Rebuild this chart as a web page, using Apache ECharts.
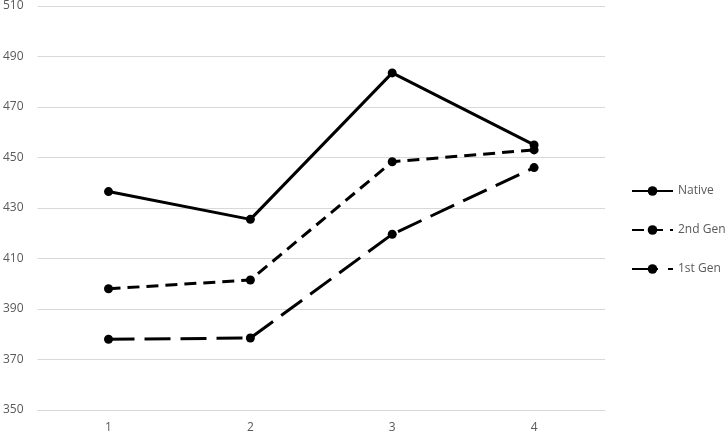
<!DOCTYPE html>
<html><head><meta charset="utf-8">
<script src="https://cdn.jsdelivr.net/npm/echarts@6/dist/echarts.min.js"></script>
<style>html,body{margin:0;padding:0;background:#fff}#c{width:726px;height:435px}</style>
</head><body><div id="c"></div>
<script>
const categories = ['1', '2', '3', '4'];
const native = [436.5, 425.5, 483.5, 455];
const secondGen = [398, 401.5, 448.3, 453];
const firstGen = [378, 378.5, 419.6, 446];

const chart = echarts.init(document.getElementById('c'));
const mk = (name, data, type) => ({
  name, type: 'line', data,
  symbol: 'circle', symbolSize: 9,
  itemStyle: { color: '#000' },
  lineStyle: { color: '#000', width: 3, type },
  emphasis: { disabled: true }
});
chart.setOption({
  animation: false,
  grid: { left: 35, right: 121, top: 5, bottom: 25 },
  xAxis: {
    type: 'category', data: categories,
    axisLine: { lineStyle: { color: '#d9d9d9' } },
    axisTick: { show: false },
    axisLabel: { color: '#595959', fontSize: 12, margin: 12, fontFamily: 'Open Sans' }
  },
  yAxis: {
    type: 'value', min: 350, max: 510, interval: 20,
    axisLine: { show: false }, axisTick: { show: false },
    splitLine: { lineStyle: { color: '#d9d9d9' } },
    axisLabel: { color: '#595959', fontSize: 12, margin: 14, fontFamily: 'Open Sans' }
  },
  legend: {
    orient: 'vertical', left: 631, top: 185, itemGap: 27, padding: 0,
    itemWidth: 41, itemHeight: 12,
    textStyle: { color: '#595959', fontSize: 12, fontFamily: 'Open Sans' },
    data: ['Native', '2nd Gen', '1st Gen']
  },
  series: [
    mk('Native', native, 'solid'),
    mk('2nd Gen', secondGen, [12, 7]),
    mk('1st Gen', firstGen, [26, 10])
  ]
});
</script></body></html>
